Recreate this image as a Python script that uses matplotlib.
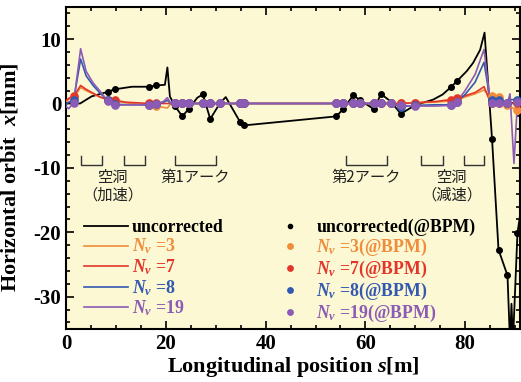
import numpy as np
import matplotlib
matplotlib.use("Agg")
import matplotlib.pyplot as plt
from matplotlib.ticker import MultipleLocator

plt.rcParams['font.family'] = ['Liberation Serif', 'DejaVu Serif']
plt.rcParams['font.weight'] = 'bold'
plt.rcParams['mathtext.fontset'] = 'custom'
plt.rcParams['mathtext.rm'] = 'Liberation Serif:bold'
plt.rcParams['mathtext.it'] = 'Liberation Serif:italic:bold'
plt.rcParams['mathtext.bf'] = 'Liberation Serif:bold'
plt.rcParams['axes.unicode_minus'] = False

# BPM positions [m]
bpm_s = [1.5, 8.3, 9.7, 16.7, 18.0, 21.8, 23.3, 24.6, 27.4, 28.9, 30.8, 34.9, 35.7,
         54.2, 55.6, 57.6, 58.9, 61.8, 63.1, 65.1, 67.1, 69.9, 77.1, 78.4,
         85.4, 86.7, 88.5, 90.5]

# uncorrected orbit
unc_s = [0, 2.8, 5.1, 8.3, 9.7, 13.2, 16.7, 18.0, 19.8, 20.3, 20.8, 21.8, 23.3, 24.6,
         26.3, 27.4, 28.9, 30.8, 32.0, 34.9, 35.7, 54.2, 55.6, 57.6, 58.9, 61.8,
         63.1, 65.1, 67.1, 69.9, 71.5, 73.6, 75.5, 77.1, 78.4, 80.3, 81.6, 83.0,
         83.9, 85.4, 86.7, 88.5, 89.0, 89.3, 89.6, 90.5, 91.0]
unc_x = [0, 0, 1.1, 1.8, 2.2, 2.6, 2.6, 2.8, 2.9, 5.6, 1.1, -0.4, -2.0, -0.8,
         0.9, 1.4, -2.4, 0.0, 1.0, -2.9, -3.4, -2.0, -0.8, 1.3, 0.5, -0.9,
         1.5, 0.3, -1.6, -0.3, 0.1, 0.6, 1.4, 2.5, 3.5, 5.0, 6.3, 8.3,
         11.0, -5.5, -22.7, -26.7, -37.0, -31.1, -37.0, -20.1, -17.5]

# corrected orbits
cor_s = [0, 0.5, 1.5, 2.9, 4.0, 5.4, 6.8, 8.3, 9.7, 12.0, 16.7, 18.0, 19.5, 20.3,
         21.0, 21.8, 23.3, 24.6, 27.4, 28.9, 30.8, 34.9, 35.7, 54.2, 55.6, 57.6,
         58.9, 61.8, 63.1, 65.1, 67.1, 69.9, 74.0, 77.1, 78.4, 80.0, 82.0, 83.8,
         85.0, 85.4, 86.7, 88.5, 89.0, 89.8, 90.5, 91.0]
nv3_x = [0.3, 0.6, 0.9, 2.5, 2.0, 1.5, 1.0, 0.6, 0.4, 0.1, -0.3, -0.4, -0.6, -0.7,
         0, 0, 0, 0, 0, 0, 0, 0, 0, 0, 0, 0,
         0, 0, 0, 0, 0, 0.1, 0.2, 0.4, 0.6, 1.0, 1.5, 2.1,
         1.0, 1.1, 1.0, -0.3, -0.5, -0.8, -1.0, -1.2]
nv7_x = [0.5, 0.8, 1.1, 2.8, 2.2, 1.6, 1.0, 0.6, 0.5, 0.2, 0, 0, 0, 0,
         0, 0, 0, 0, 0, 0, 0, 0, 0, 0, 0, 0,
         0, 0, 0, 0, 0, 0.1, 0.3, 0.6, 0.8, 1.2, 1.7, 2.6,
         0.3, 0.1, 0, 0, 0, 0, 0, 0]
nv8_x = [-0.2, 0.2, 0.5, 6.9, 4.3, 2.8, 1.6, 0.5, -0.1, -0.2, -0.2, -0.1, 0.2, 0.5,
         0, 0, 0, 0, 0, 0, 0, 0, 0, 0, 0, 0,
         0, 0, 0, 0, -0.5, -0.3, -0.2, -0.2, 0.2, 1.4, 3.3, 6.4,
         0.6, 0.6, 0.5, 0.1, 0.6, 0.6, 0.5, 0.5]
nv19_x = [-0.5, -0.8, 0.1, 8.5, 5.0, 3.2, 1.9, 0.4, -0.3, -0.2, -0.2, -0.1, 0.3, 0.9,
          0, 0, 0, 0, 0, 0, 0, 0, 0, 0, 0, 0,
          0, 0, 0, 0, -0.3, -0.4, -0.4, -0.3, 0.3, 2.0, 4.5, 8.4,
          0.4, 0.1, 0.1, 0.1, 1.5, -9.3, 0.2, 0.2]

# section brackets and labels
sections = [(3.0, 7.1), (11.5, 15.8), (21.8, 30.1), (56.2, 64.4), (71.1, 75.5), (79.8, 83.8)]
section_labels = [(9.3, '空洞\n（加速）'), (25.9, '第1アーク'), (60.1, '第2アーク'), (77.3, '空洞\n（減速）')]

c_unc = 'black'
c3 = '#F08C3A'
c7 = '#E2362B'
c8 = '#3358B0'
c19 = '#8B5BB5'

fig = plt.figure(figsize=(5.21, 3.82), dpi=100)
ax = fig.add_axes([0.127, 0.139, 0.871, 0.843])
ax.set_facecolor('#FBF8D3')

unc_s_a = np.array(unc_s)
cor_s_a = np.array(cor_s)
unc_mask = np.isin(unc_s_a, bpm_s)
cor_mask = np.isin(cor_s_a, bpm_s)

l0, = ax.plot(unc_s, unc_x, color=c_unc, lw=1.3, zorder=2)
d0, = ax.plot(unc_s_a[unc_mask], np.array(unc_x)[unc_mask], 'o', color=c_unc, ms=4, zorder=3)

lines = []
dots = []
for xs, c in [(nv3_x, c3), (nv7_x, c7), (nv8_x, c8), (nv19_x, c19)]:
    l, = ax.plot(cor_s, xs, color=c, lw=1.2, zorder=4)
    lines.append(l)
for i, (xs, c) in enumerate([(nv3_x, c3), (nv7_x, c7), (nv8_x, c8), (nv19_x, c19)]):
    d, = ax.plot(cor_s_a[cor_mask], np.array(xs)[cor_mask], 'o', color=c, ms=5.2, zorder=5 + i)
    dots.append(d)

# brackets
for a, b in sections:
    ax.plot([a, a, b, b], [-8.1, -9.5, -9.5, -8.1], color='#333333', lw=1.0, zorder=1)
for s, txt in section_labels:
    ax.text(s, -10.1, txt, ha='center', va='top', fontsize=11, fontweight='normal',
            family=['Noto Sans CJK JP', 'DejaVu Sans'], linespacing=1.05, color='#222222')

ax.set_xlim(0, 91)
ax.set_ylim(-35, 15)
ax.xaxis.set_major_locator(MultipleLocator(20))
ax.xaxis.set_minor_locator(MultipleLocator(5))
ax.yaxis.set_major_locator(MultipleLocator(10))
ax.yaxis.set_minor_locator(MultipleLocator(2))
ax.tick_params(which='both', direction='in', top=True, right=True, labelsize=15, width=1.2)
ax.tick_params(which='major', length=6)
ax.tick_params(which='minor', length=3)
for sp in ax.spines.values():
    sp.set_linewidth(1.5)

ax.set_xlabel(r'Longitudinal position $s$[m]', fontsize=16, fontweight='bold', labelpad=1)
ax.set_ylabel(r'Horizontal orbit  $x$[mm]', fontsize=16, fontweight='bold')
ax.yaxis.set_label_coords(-0.1, 0.47)

handles = [l0] + lines + [d0] + dots
labels = ['uncorrected', r'$N_v$ =3', r'$N_v$ =7', r'$N_v$ =8', r'$N_v$ =19',
          'uncorrected(@BPM)', r'$N_v$ =3(@BPM)', r'$N_v$ =7(@BPM)', r'$N_v$ =8(@BPM)', r'$N_v$ =19(@BPM)']
leg = ax.legend(handles, labels, ncol=2, loc='upper left', bbox_to_anchor=(0.02, 0.37),
                frameon=False, fontsize=12.8, handlelength=2.45, handletextpad=0.25,
                columnspacing=2.5, labelspacing=0.05, markerscale=0.75, borderpad=0)
for t, c in zip(leg.get_texts(), [c_unc, c3, c7, c8, c19] * 2):
    t.set_color(c)
    t.set_fontweight('bold')

fig.savefig('out.png', dpi=100)
